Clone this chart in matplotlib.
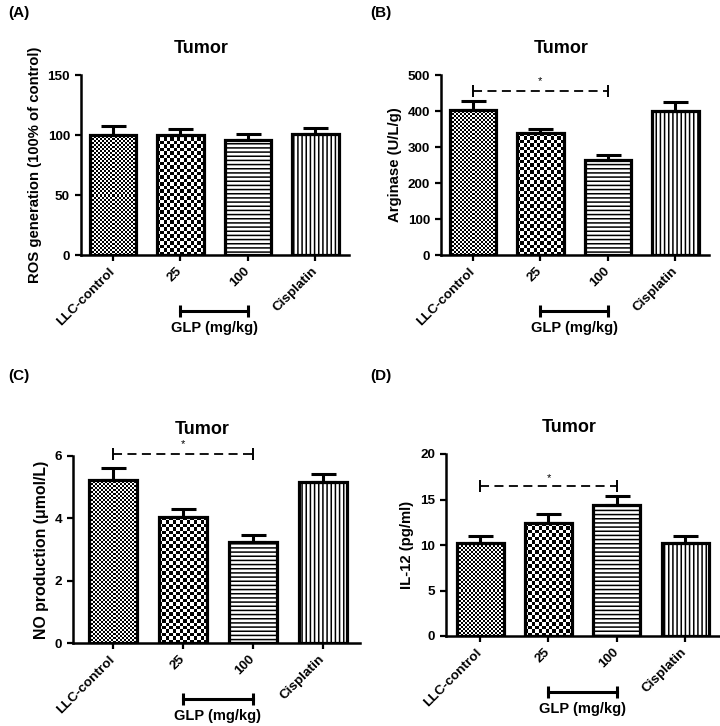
import numpy as np
import matplotlib
matplotlib.use('Agg')
import matplotlib.pyplot as plt
from matplotlib.transforms import blended_transform_factory, ScaledTranslation

plt.rcParams['font.family'] = ['Liberation Sans', 'DejaVu Sans']
plt.rcParams['font.weight'] = 'bold'
plt.rcParams['hatch.linewidth'] = 1.1

groups = ['LLC-control', '25', '100', 'Cisplatin']

ros_mean = [100, 100, 95.5, 100.5]
ros_err = [7.5, 5, 5.5, 5.5]

arg_mean = [403, 338, 263, 400]
arg_err = [24, 11, 15, 24]

no_mean = [5.24, 4.03, 3.25, 5.15]
no_err = [0.39, 0.26, 0.21, 0.28]

il12_mean = [10.2, 12.4, 14.4, 10.2]
il12_err = [0.8, 1.0, 1.0, 0.8]

W, H = 720, 726
fig = plt.figure(figsize=(W / 100, H / 100), dpi=100)


def make_axes(left, right, top, bottom):
    return fig.add_axes([left / W, 1 - bottom / H, (right - left) / W, (bottom - top) / H])


def checker(ax, bar, cell):
    bb = bar.get_window_extent()
    nx = max(1, int(round(bb.width / cell)))
    ny = max(1, int(round(bb.height / cell)))
    arr = (np.add.outer(np.arange(ny), np.arange(nx)) % 2).astype(float)
    x0, y0 = bar.get_xy()
    im = ax.imshow(arr, cmap='gray_r', extent=(x0, x0 + bar.get_width(), y0, y0 + bar.get_height()),
                   aspect='auto', interpolation='nearest', zorder=1.5, vmin=0, vmax=1)
    im.set_clip_path(bar)


def panel(ax, mean, err, ylabel, ylim, yticks, xlim, ylabel_size=10.7, sig=None):
    x = np.arange(len(groups))
    ax.set_xlim(*xlim)
    ax.set_ylim(*ylim)
    bars = ax.bar(x, mean, width=0.69, facecolor='none', edgecolor='black',
                  linewidth=2.3, zorder=3)
    checker(ax, bars[0], 2.0)
    checker(ax, bars[1], 3.4)
    bars[2].set_hatch('----')
    bars[3].set_hatch('||||')
    ax.errorbar(x, mean, yerr=[np.zeros(len(err)), err], fmt='none', ecolor='black',
                elinewidth=2.2, capsize=9, capthick=2.2, zorder=4)
    ax.set_xlim(*xlim)
    ax.set_ylim(*ylim)

    for s in ['top', 'right']:
        ax.spines[s].set_visible(False)
    for s in ['left', 'bottom']:
        ax.spines[s].set_linewidth(1.8)
    ax.set_yticks(yticks)
    ax.set_xticks(x)
    ax.set_xticklabels(groups, rotation=45, ha='right', rotation_mode='anchor', va='center')
    ax.tick_params(axis='both', width=1.6, length=4.5, labelsize=9.7)
    ax.tick_params(axis='x', pad=6)
    ax.set_ylabel(ylabel, fontsize=ylabel_size, fontweight='bold')
    ax.set_title('Tumor', fontsize=13, fontweight='bold', pad=16, x=0.45)

    t = blended_transform_factory(ax.transData, ax.transAxes)
    tl = t + ScaledTranslation(0, -0.56, fig.dpi_scale_trans)
    ax.plot([1, 2], [0, 0], color='black', lw=2.2, transform=tl, clip_on=False,
            marker='|', markersize=9, mew=2.2)
    tt = t + ScaledTranslation(0, -0.73, fig.dpi_scale_trans)
    ax.text(1.5, 0, 'GLP (mg/kg)', transform=tt, ha='center', va='center',
            fontsize=10.5, fontweight='bold')

    if sig is not None:
        y_line, y_star = sig
        ax.plot([0, 2], [y_line, y_line], color='black', lw=1.3, ls=(0, (5, 3)),
                clip_on=False, zorder=5)
        ax.plot([0, 2], [y_line, y_line], color='black', ls='none', marker='|',
                markersize=8, mew=1.4, clip_on=False, zorder=5)
        ax.text(1, y_star, '*', ha='center', va='center', fontsize=8,
                fontweight='normal', clip_on=False)


axA = make_axes(81, 349, 75, 255)
panel(axA, ros_mean, ros_err, 'ROS generation (100% of control)',
      (0, 150), [0, 50, 100, 150], (-0.475, 3.5))

axB = make_axes(441, 709, 75, 255)
panel(axB, arg_mean, arg_err, 'Arginase (U/L/g)',
      (0, 500), [0, 100, 200, 300, 400, 500], (-0.475, 3.5), sig=(455, 482))

axC = make_axes(73, 360, 456, 643)
panel(axC, no_mean, no_err, 'NO production (\u03bcmol/L)',
      (0, 6), [0, 2, 4, 6], (-0.57, 3.53), ylabel_size=11.4, sig=(6.05, 6.38))

axD = make_axes(446, 720, 454, 636)
panel(axD, il12_mean, il12_err, 'IL-12 (pg/ml)',
      (0, 20), [0, 5, 10, 15, 20], (-0.5, 3.51), sig=(16.5, 17.4))

for lab, px, py in [('(A)', 8, 13), ('(B)', 370, 13), ('(C)', 8, 376), ('(D)', 370, 376)]:
    fig.text(px / W, 1 - py / H, lab, ha='left', va='center', fontsize=11, fontweight='bold')

fig.savefig('out.png', dpi=100)
